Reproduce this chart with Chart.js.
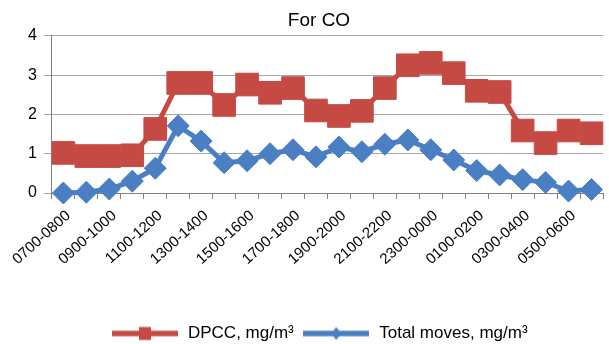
<!DOCTYPE html>
<html>
<head>
<meta charset="utf-8">
<script src="https://cdn.jsdelivr.net/npm/chart.js@4"></script>
<style>
html,body{margin:0;padding:0;overflow:hidden;background:#fff;width:609px;height:344px}
canvas{display:block}
</style>
</head>
<body>
<canvas id="c" width="620" height="352" style="width:620px;height:352px"></canvas>
<script>
const categories = ['0700-0800','0800-0900','0900-1000','1000-1100','1100-1200','1200-1300',
  '1300-1400','1400-1500','1500-1600','1600-1700','1700-1800','1800-1900','1900-2000',
  '2000-2100','2100-2200','2200-2300','2300-0000','0000-0100','0100-0200','0200-0300',
  '0300-0400','0400-0500','0500-0600','0600-0700'];
const dpcc = [1.02, 0.94, 0.94, 0.96, 1.63, 2.80, 2.80, 2.24, 2.76, 2.55, 2.67, 2.10,
  1.96, 2.09, 2.67, 3.25, 3.31, 3.05, 2.60, 2.57, 1.59, 1.27, 1.59, 1.52];
const totalMoves = [0.00, 0.02, 0.10, 0.30, 0.63, 1.71, 1.32, 0.77, 0.82, 1.00, 1.10, 0.92,
  1.17, 1.05, 1.24, 1.35, 1.10, 0.84, 0.57, 0.46, 0.34, 0.27, 0.05, 0.09];
const seriesNames = ['DPCC, mg/m\u00B3', 'Total moves, mg/m\u00B3'];
const titleText = 'For CO';
const yMin = 0, yMax = 4, yStep = 1;

const RED = '#c64a44';
const BLUE = '#4a7fc3';
const FONT = "'Liberation Sans', Arial, sans-serif";

function legendIcon(color, kind) {
  const cv = document.createElement('canvas');
  cv.width = 66; cv.height = 18;
  const g = cv.getContext('2d');
  g.strokeStyle = color; g.fillStyle = color;
  g.lineWidth = 5.5;
  g.beginPath(); g.moveTo(0, 9); g.lineTo(66, 9); g.stroke();
  if (kind === 'square') {
    g.fillRect(27, 2.5, 12, 13);
  } else {
    g.beginPath(); g.moveTo(33, 2.5); g.lineTo(38, 9); g.lineTo(33, 15.5); g.lineTo(28, 9); g.closePath(); g.fill();
  }
  return cv;
}
const icons = [legendIcon(RED, 'square'), legendIcon(BLUE, 'diamond')];

new Chart(document.getElementById('c'), {
  type: 'line',
  data: {
    labels: categories,
    datasets: [
      {
        label: seriesNames[0], data: dpcc, order: 2,
        borderColor: RED, backgroundColor: RED, borderWidth: 5,
        pointStyle: 'rect', pointRadius: 16, pointBorderWidth: 1,
        pointBackgroundColor: RED, pointBorderColor: RED,
        tension: 0, clip: false
      },
      {
        label: seriesNames[1], data: totalMoves, order: 1,
        borderColor: BLUE, backgroundColor: BLUE, borderWidth: 5,
        pointStyle: 'rectRot', pointRadius: 11, pointBorderWidth: 1,
        pointBackgroundColor: BLUE, pointBorderColor: BLUE,
        tension: 0, clip: false
      }
    ]
  },
  options: {
    responsive: false,
    animation: false,
    events: [],
    layout: { padding: { left: 21, right: 3, top: 0, bottom: 0 } },
    plugins: {
      tooltip: { enabled: false },
      title: {
        display: true, text: titleText, color: '#000',
        font: { family: FONT, size: 19, weight: 'normal' },
        padding: { top: 9, bottom: 4 }
      },
      legend: {
        position: 'bottom',
        labels: {
          usePointStyle: true, pointStyleWidth: 69,
          color: '#000', padding: 8,
          font: { family: FONT, size: 17 },
          generateLabels: () => seriesNames.map((t, i) => ({
            text: t, fillStyle: i ? BLUE : RED, strokeStyle: i ? BLUE : RED,
            lineWidth: 0, pointStyle: icons[i], hidden: false, datasetIndex: i, fontColor: '#000'
          }))
        }
      }
    },
    scales: {
      x: {
        offset: true,
        afterFit: (s) => { s.height = 124; },
        grid: { display: true, drawOnChartArea: false, drawTicks: true, tickLength: 6, offset: true, color: '#808080' },
        border: { display: true, color: '#808080', width: 1 },
        ticks: {
          autoSkip: false, minRotation: 42, maxRotation: 42, labelOffset: 5, padding: 8,
          color: '#000', font: { family: FONT, size: 15 },
          callback: function(v, i) { return i % 2 === 0 ? categories[i] : ''; }
        }
      },
      y: {
        min: yMin, max: yMax,
        grid: { color: '#a6a6a6', tickLength: 8, drawTicks: true },
        border: { display: true, color: '#808080', width: 1 },
        ticks: { stepSize: yStep, padding: 7, color: '#000', font: { family: FONT, size: 16 } }
      }
    }
  }
});
</script>
</body>
</html>
